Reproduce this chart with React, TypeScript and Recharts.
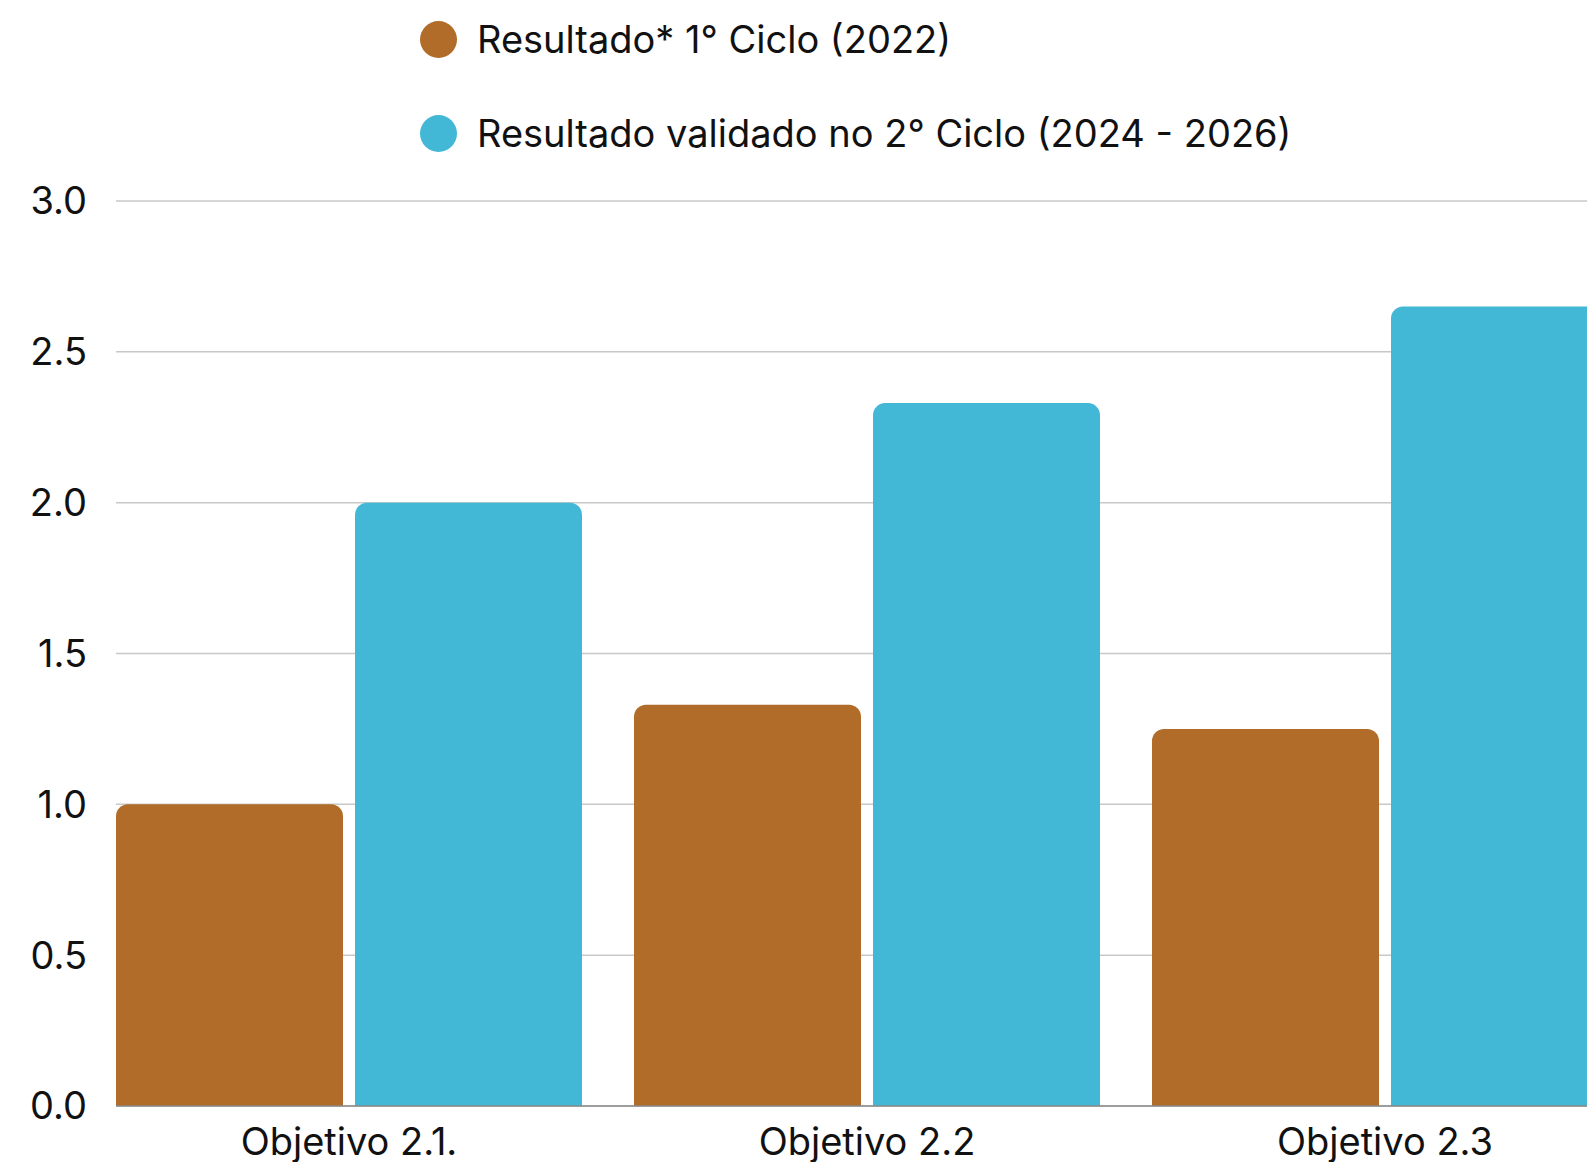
import { BarChart, Bar, XAxis, YAxis, CartesianGrid, Legend } from "recharts";

const CATEGORIES = ["Objetivo 2.1.", "Objetivo 2.2", "Objetivo 2.3"];
const CICLO_1 = [1.0, 1.33, 1.25];
const CICLO_2 = [2.0, 2.33, 2.65];
const Y_TICKS = [0, 0.5, 1, 1.5, 2, 2.5, 3];

const SERIES_1 = "Resultado* 1° Ciclo (2022)";
const SERIES_2 = "Resultado validado no 2° Ciclo (2024 - 2026)";
const SERIES_ORDER = ["c1", "c2"];

const BROWN = "#B06C28";
const BLUE = "#42B8D6";
const FONT = "Inter, 'Noto Sans', sans-serif";

const rows = CATEGORIES.map((name, i) => ({
  name,
  c1: CICLO_1[i],
  c2: CICLO_2[i],
}));

function LegendBox({ payload }: any) {
  const items = [...(payload || [])].sort(
    (a: any, b: any) => SERIES_ORDER.indexOf(a.dataKey) - SERIES_ORDER.indexOf(b.dataKey)
  );
  return (
    <div style={{ fontFamily: FONT, fontSize: 38, color: "#111" }}>
      {items.map((p: any, i: number) => (
        <div
          key={i}
          style={{
            position: "absolute",
            left: 420,
            top: 39 + i * 94 - 19,
            height: 38,
            display: "flex",
            alignItems: "center",
            whiteSpace: "nowrap",
          }}
        >
          <span
            style={{
              width: 37,
              height: 37,
              borderRadius: "50%",
              background: p.color,
              marginRight: 20,
              display: "inline-block",
            }}
          />
          <span>{p.value}</span>
        </div>
      ))}
    </div>
  );
}

export default function App() {
  return (
    <div
      style={{
        position: "absolute",
        left: 0,
        top: 0,
        width: 1587,
        height: 1162,
        overflow: "hidden",
        background: "#fff",
      }}
    >
      <BarChart
        width={1640}
        height={1162}
        data={rows}
        margin={{ top: 201, right: 22, bottom: 0, left: 0 }}
        barCategoryGap={26}
        barGap={12}
      >
        <CartesianGrid vertical={false} stroke="#c8c8c8" strokeWidth={1.5} />
        <XAxis
          dataKey="name"
          height={56}
          padding={{ left: -26, right: -26 }}
          axisLine={{ stroke: "#8a8a8a", strokeWidth: 1.5 }}
          tickLine={false}
          tickSize={0}
          tickMargin={22}
          tick={{ fontSize: 38, fill: "#111", fontFamily: FONT }}
        />
        <YAxis
          width={116}
          domain={[0, 3]}
          ticks={Y_TICKS}
          axisLine={false}
          tickLine={false}
          tickSize={0}
          tickMargin={29}
          tickFormatter={(v: number) => v.toFixed(1)}
          tick={{ fontSize: 38, fill: "#111", fontFamily: FONT }}
        />
        <Legend
          layout="vertical"
          align="center"
          verticalAlign="middle"
          wrapperStyle={{ top: 0, left: 0, width: 1587, height: 0 }}
          content={<LegendBox />}
        />
        <Bar
          dataKey="c1"
          name={SERIES_1}
          fill={BROWN}
          radius={[12, 12, 0, 0]}
          isAnimationActive={false}
        />
        <Bar
          dataKey="c2"
          name={SERIES_2}
          fill={BLUE}
          radius={[12, 12, 0, 0]}
          isAnimationActive={false}
        />
      </BarChart>
    </div>
  );
}
